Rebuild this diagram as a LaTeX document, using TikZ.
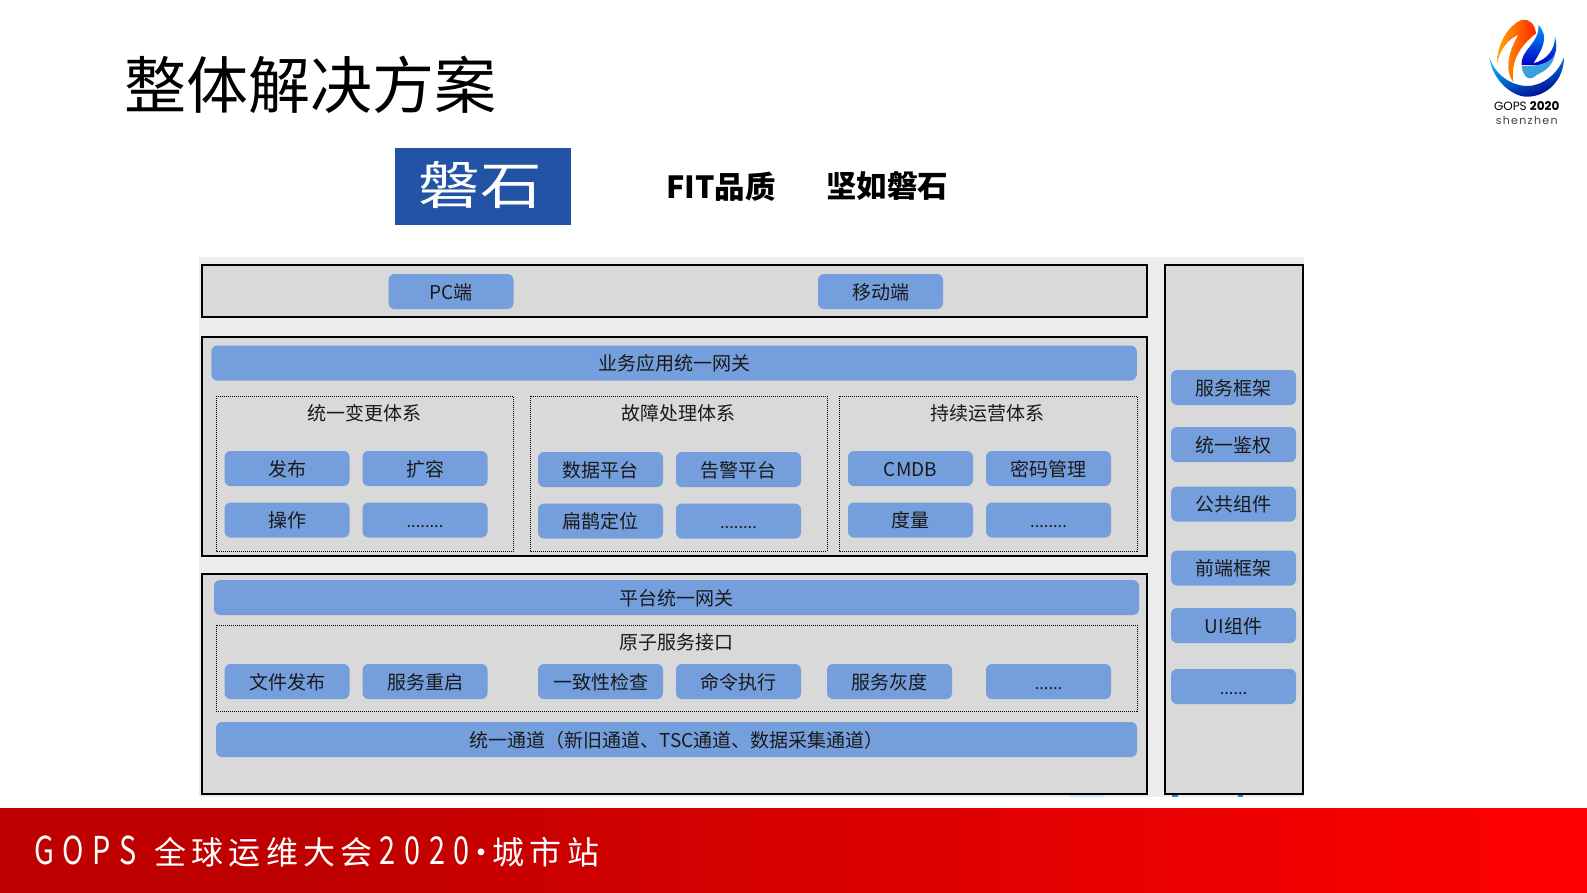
\documentclass[tikz,border=0pt]{standalone}
\usepackage{fontspec}
\setmainfont{Noto Sans CJK SC}
\newfontfamily\logofont{Poppins}
\definecolor{bgpale}{HTML}{EDEDED}
\definecolor{panelgray}{HTML}{D9D9D9}
\definecolor{btnblue}{HTML}{759FDC}
\definecolor{brandblue}{HTML}{2353A5}
\pgfdeclarehorizontalshading{footshade}{100bp}{color(0bp)=(red!75!black); color(35bp)=(red!75!black); color(75bp)=(red); color(100bp)=(red)}
\tikzset{
  panel/.style={draw=black,line width=1.05pt,fill=panelgray},
  dotbox/.style={draw=black,line width=1pt,dash pattern=on 1pt off 1pt},
  lbl/.style={font=\fontsize{19}{22}\selectfont,text=black!90,inner sep=0pt,text height=17pt,text depth=2pt},
  btn/.style={lbl,fill=btnblue,rounded corners=6pt,minimum width=125pt,minimum height=35pt},
  bar/.style={btn,minimum width=925pt},
  dots/.style={font=\fontsize{16.5}{18}\selectfont}
}
\newcommand{\latsp}[1]{\scalebox{.9}[1.2]{\addfontfeature{LetterSpace=30}#1}}
\newcommand{\cjksp}[1]{{\addfontfeature{LetterSpace=16.5}#1}}
\begin{document}
\begin{tikzpicture}[x=1pt,y=-1pt]
\useasboundingbox (0,0) rectangle (1587,892);
\fill[white] (0,0) rectangle (1587,892);
% title
\node[inner sep=0pt,font=\fontsize{62}{70}\selectfont,text=black] (title) at (310,85) {整体解决方案};
% brand
\fill[brandblue] (395,148) rectangle (571,224.5);
\node[inner sep=0pt,font=\fontsize{54}{60}\selectfont,text=white,xscale=1.14,yscale=.95] (brandname) at (480,184.5) {磐石};
\node[inner sep=0pt,font=\bfseries\fontsize{30.5}{36}\selectfont,text=black] (fit) at (721,186.5) {FIT品质};
\node[inner sep=0pt,font=\bfseries\fontsize{30.5}{36}\selectfont,text=black] (solid) at (887,186.5) {坚如磐石};
% backdrop
\fill[bgpale] (199,257) rectangle (1304,797);
\fill[cyan!25] (1070,795) rectangle (1103,797);
\fill[cyan!80!blue] (1172,795) rectangle (1178,797);
\fill[cyan!80!blue] (1238,795) rectangle (1243,797);
% panels
\draw[panel] (202,265) rectangle (1147,317);
\draw[panel] (202,337) rectangle (1147,556);
\draw[panel] (202,574) rectangle (1147,794);
\draw[panel] (1165,265) rectangle (1303,794);
% client row
\node[btn] (pc) at (451,291.5) {PC端};
\node[btn] (mobile) at (880.5,291.5) {移动端};
% app gateway
\node[bar,minimum width=925.5pt] (appgw) at (674,363) {业务应用统一网关};
% dotted groups
\draw[dotbox] (216,396) rectangle (513.5,551);
\draw[dotbox] (530,396) rectangle (827,551);
\draw[dotbox] (839,396) rectangle (1137,551);
\node[lbl] (g1) at (364,412.5) {统一变更体系};
\node[lbl] (g2) at (678,412.5) {故障处理体系};
\node[lbl] (g3) at (987,412.5) {持续运营体系};
\node[btn] (a1) at (287,468.5) {发布};
\node[btn] (a2) at (425,468.5) {扩容};
\node[btn] (a3) at (287,520) {操作};
\node[btn,dots] (a4) at (425,520) {........};
\node[btn] (b1) at (600.5,469.5) {数据平台};
\node[btn] (b2) at (738.5,469.5) {告警平台};
\node[btn] (b3) at (600.5,521) {扁鹊定位};
\node[btn,dots] (b4) at (738.5,521) {........};
\node[btn] (c1) at (910.5,468.5) {CMDB};
\node[btn] (c2) at (1048.5,468.5) {密码管理};
\node[btn] (c3) at (910.5,520) {度量};
\node[btn,dots] (c4) at (1048.5,520) {........};
% platform
\node[bar] (platgw) at (676.5,597.5) {平台统一网关};
\draw[dotbox] (216,625) rectangle (1137,711);
\node[lbl] (atom) at (676,642) {原子服务接口};
\node[btn] (d1) at (287,681.5) {文件发布};
\node[btn] (d2) at (425,681.5) {服务重启};
\node[btn] (d3) at (600.5,681.5) {一致性检查};
\node[btn] (d4) at (738.5,681.5) {命令执行};
\node[btn] (d5) at (889.5,681.5) {服务灰度};
\node[btn,dots] (d6) at (1048.5,681.5) {......};
\node[bar,minimum width=921pt] (chan) at (676.5,739.5) {统一通道（新旧通道、TSC通道、数据采集通道）};
% right column
\node[btn] (r1) at (1233.5,387.5) {服务框架};
\node[btn] (r2) at (1233.5,444.5) {统一鉴权};
\node[btn] (r3) at (1233.5,504) {公共组件};
\node[btn] (r4) at (1233.5,568) {前端框架};
\node[btn] (r5) at (1233.5,625.5) {UI组件};
\node[btn,dots] (r6) at (1233.5,686.5) {......};
% footer
\shade[shading=footshade] (0,808) rectangle (1587,892);
\node[inner sep=0pt,anchor=west,text=white,font=\fontsize{32}{36}\selectfont] (foot) at (34,852) {\latsp{GOPS}\hspace{18pt}\cjksp{全球运维大会}\hspace{7pt}\latsp{2020}\makebox[23pt]{·}\cjksp{城市站}};
% GOPS emblem
\begin{scope}[shift={(1440,0)},scale=1/3]
\shade[top color=cyan!70!blue,bottom color=blue!55!black,shading angle=20]
  (148,172) .. controls (160,250) and (225,292) .. (262,290)
  .. controls (320,290) and (372,240) .. (372,172)
  .. controls (350,230) and (300,258) .. (262,258)
  .. controls (215,258) and (165,225) .. (148,172) -- cycle;
\shade[left color=orange!70!yellow,right color=red!70!orange]
  (172,186) .. controls (172,120) and (215,70) .. (245,60)
  .. controls (270,55) and (285,75) .. (288,100)
  .. controls (250,130) and (210,175) .. (220,245)
  .. controls (200,225) and (195,170) .. (235,105)
  .. controls (205,115) and (180,150) .. (172,186) -- cycle;
\shade[top color=cyan!60!blue,bottom color=blue!75!black]
  (295,75) .. controls (330,110) and (305,150) .. (280,190)
  .. controls (320,180) and (345,150) .. (345,110)
  .. controls (355,150) and (345,175) .. (320,195)
  -- (245,195) .. controls (240,150) and (300,130) .. (295,75) -- cycle;
\fill[cyan!75!blue!80] (245,198) .. controls (290,200) and (335,190) .. (345,160)
  .. controls (340,200) and (310,215) .. (290,225)
  .. controls (270,245) and (250,235) .. (245,198) -- cycle;
\node[inner sep=0pt,font=\logofont\fontsize{12}{14}\selectfont,text=black] (gops) at (260,318) {GOPS \textbf{2020}};
\node[inner sep=0pt,font=\logofont\fontsize{11}{13}\selectfont,text=black!75] (city) at (260,362) {\addfontfeature{LetterSpace=12}shenzhen};
\end{scope}
\end{tikzpicture}
\end{document}
